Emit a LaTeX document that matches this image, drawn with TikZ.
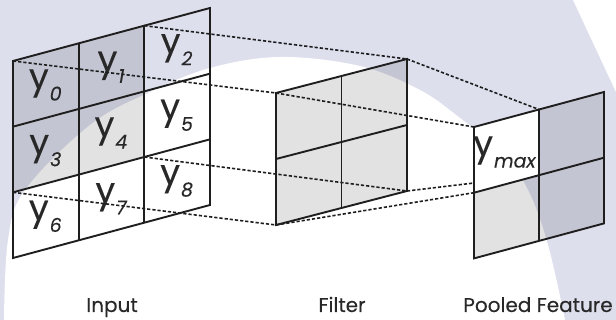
\documentclass[tikz,border=0pt]{standalone}
\usepackage{fontspec}
\setmainfont{Poppins}[FakeBold=0.3]
\newfontfamily\subfont{Poppins}[FakeSlant=0.18, FakeBold=0.15]
\definecolor{lav}{RGB}{221,223,237}
\definecolor{cellgray}{RGB}{226,226,226}
\definecolor{ink}{RGB}{30,30,30}
\definecolor{txt}{RGB}{40,40,40}
\newcommand{\ysub}[1]{y\kern0pt\raisebox{-12pt}{\subfont\fontsize{19}{19}\selectfont #1}}
\tikzset{
  gridline/.style={draw=ink, line width=1.9pt, line join=miter},
  dotline/.style={draw=ink, line width=1.6pt, dash pattern=on 3.2pt off 2pt},
  ylab/.style={inner sep=0pt, text=txt, font=\fontsize{35}{35}\selectfont},
  caption/.style={inner sep=0pt, text=txt, font=\fontsize{20}{20}\selectfont, anchor=base},
}
\begin{document}
\begin{tikzpicture}[x=1pt,y=-1pt]
\useasboundingbox (0,0) rectangle (616,320);
% background
\fill[lav] (0,0) rectangle (616,320);
\fill[white] plot[smooth, tension=0.6] coordinates {(4,320) (8,240) (25,190) (90,125) (150,92) (210,68) (280,57) (360,66) (420,90) (460,118) (500,150) (528,190) (548,245) (565,320)} -- cycle;
\fill[white] (573,0) -- (616,0) -- (616,92) -- cycle;
% coordinates
\foreach \i in {0,...,3}{\foreach \j in {0,...,3}{
  \coordinate (in-\i-\j) at ({13+65.667*\i},{61-17.667*\i+65.667*\j});
}}
\foreach \i in {0,1,2}{\foreach \j in {0,1,2}{
  \coordinate (fi-\i-\j) at ({276+65.5*\i},{93-17*\i+66*\j});
  \coordinate (po-\i-\j) at ({474+65*\i},{127-17.5*\i+65.7*\j});
}}
\coordinate (pohid) at (474,183);
% fills
\begin{scope}[blend mode=multiply]
\fill[cellgray] (in-0-0) -- (in-2-0) -- (in-2-2) -- (in-0-2) -- cycle;
\fill[cellgray] (fi-0-0) -- (fi-2-0) -- (fi-2-2) -- (fi-0-2) -- cycle;
\fill[cellgray] (po-1-0) -- (po-2-0) -- (po-2-2) -- (po-0-2) -- (po-0-1) -- (po-1-1) -- cycle;
\end{scope}
\fill[white] (po-0-0) -- (po-1-0) -- (po-1-1) -- (po-0-1) -- cycle;
% labels in input
\foreach \j in {0,1,2}{\foreach \i in {0,1,2}{
  \pgfmathtruncatemacro{\n}{3*\j+\i}
  \node[ylab] (y\n) at ({13+65.667*(\i+0.5)-1},{61-17.667*(\i+0.5)+65.667*(\j+0.5)}) {\ysub{\n}};
}}
\node[ylab] (ymax) at (504,152) {\ysub{max}};
% dashed connectors
\draw[dotline] (in-0-0) -- (fi-0-0);
\draw[dotline] (in-2-0) -- (fi-2-0);
\draw[dotline] (in-0-2) -- (fi-0-2);
\draw[dotline] (in-2-2) -- (fi-2-2);
\draw[dotline] (fi-0-0) -- (po-0-0);
\draw[dotline] (fi-2-0) -- (po-1-0);
\draw[dotline] (fi-0-2) -- (po-0-1);
\draw[dotline] (fi-2-2) -- (pohid);
% grids
\draw[gridline] (in-0-0) -- (in-3-0) -- (in-3-3) -- (in-0-3) -- cycle;
\foreach \k in {1,2}{
  \draw[gridline] (in-\k-0) -- (in-\k-3);
  \draw[gridline] (in-0-\k) -- (in-3-\k);
}
\draw[gridline] (fi-0-0) -- (fi-2-0) -- (fi-2-2) -- (fi-0-2) -- cycle;
\draw[gridline] (fi-1-0) -- (fi-1-2);
\draw[gridline] (fi-0-1) -- (fi-2-1);
\draw[gridline] (po-0-0) -- (po-2-0) -- (po-2-2) -- (po-0-2) -- cycle;
\draw[gridline] (po-1-0) -- (po-1-2);
\draw[gridline] (po-0-1) -- (po-2-1);
% captions
\node[caption] (capin) at (112,312) {Input};
\node[caption] (capfi) at (342,312) {Filter};
\node[caption] (cappo) at (538,312) {Pooled Feature};
\end{tikzpicture}
\end{document}
